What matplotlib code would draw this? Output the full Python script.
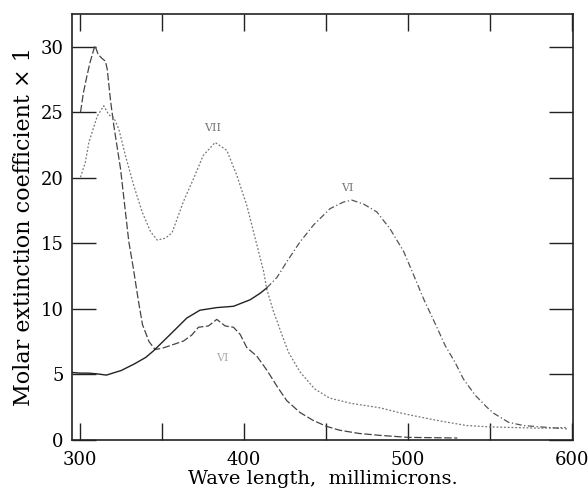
import matplotlib
matplotlib.use('Agg')
import matplotlib.pyplot as plt

# Curve with the 30 maximum (dashed)
wave_a = [300.2, 302, 304, 306, 309, 311, 313.4, 315.4, 316.5, 318.5, 320.5, 324.6, 327.6,
          329.7, 332.3, 335.4, 338, 342, 345.7, 350, 354.9, 363, 368, 372.1, 378.2, 383.3,
          388.4, 393.5, 397.6, 401.6, 407.7, 414, 420, 426, 434, 442, 450, 458, 470, 483,
          500, 530]
ext_a = [25.0, 26.5, 27.7, 28.8, 30.1, 29.4, 29.1, 28.9, 28.3, 25.9, 24.0, 20.7, 17.4,
         15.1, 13.2, 10.7, 8.8, 7.5, 6.9, 7.0, 7.2, 7.55, 8.0, 8.6, 8.7, 9.2,
         8.7, 8.6, 8.05, 7.05, 6.4, 5.3, 4.1, 3.0, 2.1, 1.5, 1.05, 0.75, 0.5, 0.35,
         0.2, 0.15]

# Curve VII (dotted)
wave_vii = [300.2, 303.2, 305.3, 310.4, 314.4, 317.5, 320.5, 323.6, 327.6, 332.7, 337.8,
            342.9, 347, 352, 356, 363, 369, 375, 382.3, 389.4, 395.5, 401.6, 406.7, 411.8,
            413.8, 417.9, 424, 427, 434, 443, 452, 465, 483, 494, 503.3, 519.5, 535.8,
            549.9, 564.2, 580.5, 596.7]
ext_vii = [20.05, 21.2, 22.7, 24.7, 25.5, 24.8, 24.6, 23.7, 21.7, 19.4, 17.4,
           15.9, 15.25, 15.4, 15.8, 18.2, 19.9, 21.7, 22.7, 22.1, 20.2, 17.9, 15.4, 12.9,
           11.5, 9.8, 7.7, 6.7, 5.2, 3.9, 3.2, 2.8, 2.45, 2.1, 1.85, 1.45, 1.1,
           1.0, 0.95, 0.9, 0.95]

# Curve VI, solid part then dash-dot part
wave_vi_solid = [295, 300, 305, 310, 316, 325, 333, 340, 344.7, 354.9, 365, 373, 383.3,
                 393.5, 403.7, 409.8, 413.8]
ext_vi_solid = [5.15, 5.1, 5.1, 5.05, 4.95, 5.3, 5.8, 6.3, 6.8, 8.05, 9.3, 9.9, 10.1,
                10.2, 10.7, 11.2, 11.6]
wave_vi_dash = [413.8, 420, 426, 434, 442.3, 452.4, 460.5, 465.7, 472.8, 480.9, 489,
                497.2, 503.3, 509.3, 517.5, 522.6, 528.7, 533.7, 541, 548, 552, 561.2,
                570.3, 580.5, 596.7]
ext_vi_dash = [11.6, 12.4, 13.6, 15.1, 16.4, 17.65, 18.15, 18.3, 18.0, 17.4, 16.1,
               14.4, 12.6, 10.8, 8.6, 7.2, 5.9, 4.65, 3.4, 2.5, 2.05, 1.35,
               1.1, 1.0, 0.85]

x_ticks = [300, 350, 400, 450, 500, 550, 600]
x_labels = ['300', '', '400', '', '500', '', '600']
y_ticks = [0, 5, 10, 15, 20, 25, 30]

plt.rcParams['font.family'] = ['DejaVu Serif']

fig = plt.figure(figsize=(5.88, 4.98), dpi=100)
ax = fig.add_axes([0.1224, 0.1165, 0.852, 0.8554])

ax.plot(wave_a, ext_a, color='#444444', lw=0.9, ls=(0, (6, 2)))
ax.plot(wave_vii, ext_vii, color='#777777', lw=0.9, ls=(0, (1.5, 1.5)))
ax.plot(wave_vi_solid, ext_vi_solid, color='#222222', lw=1.0)
ax.plot(wave_vi_dash, ext_vi_dash, color='#555555', lw=0.9, ls=(0, (5, 2, 1, 2)))

ax.text(381, 23.6, 'VII', fontsize=8, color='#777777', ha='center')
ax.text(463, 19.0, 'VI', fontsize=8, color='#777777', ha='center')
ax.text(387, 6.0, 'VI', fontsize=8, color='#aaaaaa', ha='center')

ax.set_xlim(295, 600.5)
ax.set_ylim(0, 32.5)
ax.set_xticks(x_ticks)
ax.set_xticklabels(x_labels)
ax.set_yticks(y_ticks)
ax.tick_params(axis='both', direction='in', top=True, right=True, labelsize=13,
               width=1.0, color='#222222')
ax.tick_params(axis='x', length=12, pad=8)
ax.tick_params(axis='y', length=17, pad=6)
for s in ax.spines.values():
    s.set_linewidth(1.2)
    s.set_color('#222222')

ax.set_xlabel('Wave length,  millimicrons.', fontsize=14, labelpad=1)
ax.set_ylabel('Molar extinction coefficient \u00d7 1', fontsize=16, labelpad=4)

fig.savefig('out.png', dpi=100)
